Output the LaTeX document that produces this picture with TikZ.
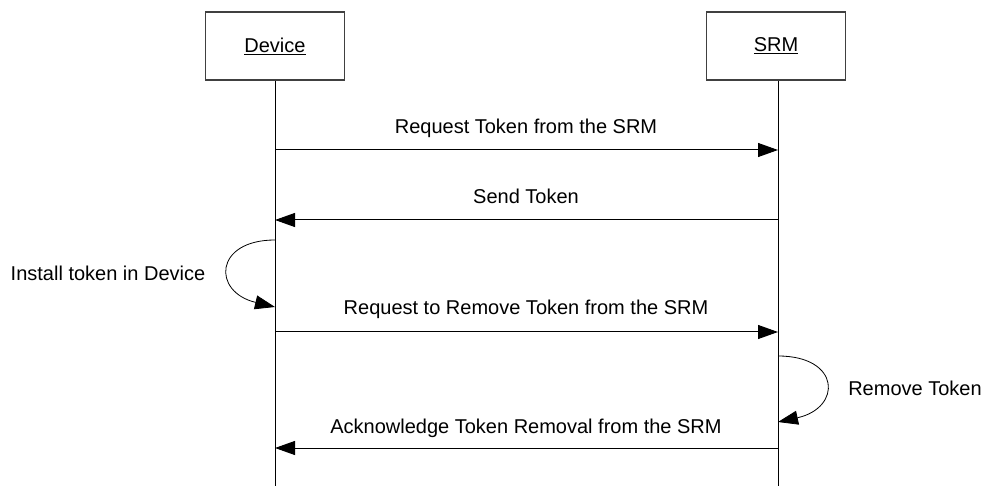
\documentclass[tikz,border=0pt]{standalone}
\usepackage{fontspec}
\setmainfont{Liberation Sans}
\usetikzlibrary{arrows.meta}
\begin{document}
\begin{tikzpicture}[x=1pt,y=-1pt,
  lifebox/.style={draw=black!75,line width=1.2pt,minimum width=139pt,minimum height=68pt,inner sep=0pt,font=\fontsize{20}{24}\selectfont},
  lifeline/.style={line width=1pt,black},
  msg/.style={line width=1pt,-{Triangle[length=20pt,width=14pt]}},
  lbl/.style={font=\fontsize{20}{24}\selectfont,inner sep=0pt}]
\useasboundingbox (0,0) rectangle (991,486);
\node[lifebox] (dev) at (275,46) {\underline{Device}};
\node[lifebox] (srm) at (776,46) {\underline{SRM}};
\coordinate (devend) at (275,486);
\coordinate (srmend) at (778,486);
\draw[lifeline] (dev.south) -- (devend);
\draw[lifeline] (srm.south -| srmend) -- (srmend);
% message points
\coordinate (d1) at (275,150); \coordinate (s1) at (778,150);
\coordinate (d2) at (275,220); \coordinate (s2) at (778,220);
\coordinate (d3) at (275,332); \coordinate (s3) at (778,332);
\coordinate (d4) at (275,448); \coordinate (s4) at (778,448);
\draw[msg] (d1) -- (s1);
\draw[msg] (s2) -- (d2);
\draw[msg] (d3) -- (s3);
\draw[msg] (s4) -- (d4);
\node[lbl] (t1) at (526,128) {Request Token from the SRM};
\node[lbl] (t2) at (526,196) {Send Token};
\node[lbl] (t3) at (526,309) {Request to Remove Token from the SRM};
\node[lbl] (t4) at (526,428) {Acknowledge Token Removal from the SRM};
% self loops
\coordinate (la) at (275,240); \coordinate (lb) at (275,307);
\draw[msg,line width=0.8pt] (la) .. controls (214,240) and (212,292) .. (lb);
\node[lbl] (tl) at (108,273) {Install token in Device};
\coordinate (ra) at (778,356); \coordinate (rb) at (778,422);
\draw[msg,line width=0.8pt] (ra) .. controls (841,356) and (842,408) .. (rb);
\node[lbl] (tr) at (915,388) {Remove Token};
\end{tikzpicture}
\end{document}
